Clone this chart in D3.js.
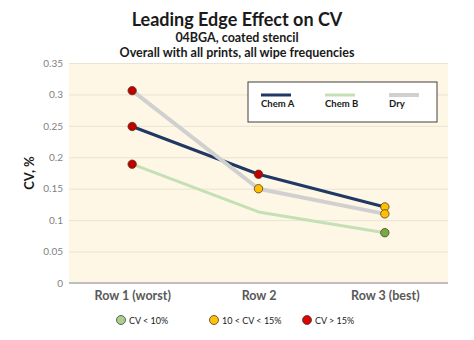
<!DOCTYPE html>
<html lang="en">
<head>
<meta charset="utf-8">
<title>Leading Edge Effect on CV</title>
<script src="https://cdn.jsdelivr.net/npm/d3@7"></script>
<style>
  body { margin: 0; background: #fff; }
  svg { display: block; font-family: Lato, "Open Sans", sans-serif; }
</style>
</head>
<body>
<div id="chart"></div>
<script>
  // rows along the stencil, worst to best
  const rows = ["Row 1 (worst)", "Row 2", "Row 3 (best)"];
  const chemA = [0.249, 0.173, 0.121];
  const chemB = [0.189, 0.113, 0.080];
  const dry = [0.306, 0.150, 0.110];
  // marker class per point: "g" < 10%, "y" 10-15%, "r" > 15%, null = no marker
  const chemAMarks = ["r", "r", "y"];
  const chemBMarks = ["r", null, "g"];
  const dryMarks = ["r", "y", "y"];
  const yTicks = [0, 0.05, 0.1, 0.15, 0.2, 0.25, 0.3, 0.35];
  const bandLabels = ["CV < 10%", "10 < CV < 15%", "CV > 15%"];

  const width = 474, height = 340;
  const plot = { left: 69, right: 448, top: 63, bottom: 283 };

  const markFill = { g: "#70ad47", y: "#ffc000", r: "#c00000" };

  const svg = d3.select("#chart").append("svg")
    .attr("width", width)
    .attr("height", height);

  const x = d3.scalePoint().domain(rows).range([plot.left, plot.right]).padding(0.5);
  const y = d3.scaleLinear().domain([0, 0.35]).range([plot.bottom, plot.top]);

  // titles
  svg.append("text").attr("x", 237).attr("y", 26).attr("text-anchor", "middle")
    .style("font", "bold 18px Lato, sans-serif").style("fill", "#1a1a1a")
    .text("Leading Edge Effect on CV");
  svg.append("text").attr("x", 237).attr("y", 42).attr("text-anchor", "middle")
    .style("font", "bold 12.5px Lato, sans-serif").style("fill", "#1a1a1a")
    .text("04BGA, coated stencil");
  svg.append("text").attr("x", 237).attr("y", 56.5).attr("text-anchor", "middle")
    .style("font", "bold 12.5px Lato, sans-serif").style("fill", "#1a1a1a")
    .text("Overall with all prints, all wipe frequencies");

  // plot background
  svg.append("rect")
    .attr("x", plot.left).attr("y", plot.top)
    .attr("width", plot.right - plot.left).attr("height", plot.bottom - plot.top)
    .style("fill", "#fef7e6");

  // y axis with gridlines
  const yAxis = d3.axisLeft(y).tickValues(yTicks).tickSize(-(plot.right - plot.left))
    .tickPadding(6).tickFormat(d => d === 0 ? "0" : d3.format("")(+d.toFixed(2)));
  const gy = svg.append("g").attr("transform", "translate(" + plot.left + ",0)").call(yAxis);
  gy.select(".domain").remove();
  gy.selectAll(".tick line").attr("stroke", "#ebe3d2").attr("stroke-width", 1);
  gy.selectAll(".tick text").style("font", "10px Lato, sans-serif").style("fill", "#7f7f7f");

  // x axis
  const xAxis = d3.axisBottom(x).tickSize(0).tickPadding(8);
  const gx = svg.append("g").attr("transform", "translate(0," + plot.bottom + ")").call(xAxis);
  gx.select(".domain").remove();
  gx.selectAll(".tick text").style("font", "bold 12.5px Lato, sans-serif").style("fill", "#595959");
  svg.append("line")
    .attr("x1", plot.left).attr("x2", plot.right)
    .attr("y1", plot.bottom).attr("y2", plot.bottom)
    .attr("stroke", "#bfbfbf").attr("stroke-width", 2);

  svg.append("text")
    .attr("transform", "translate(34," + ((plot.top + plot.bottom) / 2) + ") rotate(-90)")
    .attr("text-anchor", "middle")
    .style("font", "bold 13px Lato, sans-serif").style("fill", "#1a1a1a")
    .text("CV, %");

  const series = [
    { name: "Chem A", values: chemA, marks: chemAMarks, color: "#203864", w: 3 },
    { name: "Chem B", values: chemB, marks: chemBMarks, color: "#c5e0b4", w: 3 },
    { name: "Dry", values: dry, marks: dryMarks, color: "#d0d0d0", w: 4 }
  ];

  const line = d3.line().x((d, i) => x(rows[i])).y(d => y(d));

  svg.selectAll(".series")
    .data(series)
    .enter()
    .append("path")
    .attr("class", "series")
    .attr("d", d => line(d.values))
    .attr("fill", "none")
    .attr("stroke", d => d.color)
    .attr("stroke-width", d => d.w)
    .attr("stroke-linejoin", "round");

  const pts = [];
  series.forEach(s => s.values.forEach((v, i) => {
    if (s.marks[i]) pts.push({ row: rows[i], v: v, m: s.marks[i] });
  }));
  svg.selectAll(".pt")
    .data(pts)
    .enter()
    .append("circle")
    .attr("class", "pt")
    .attr("cx", d => x(d.row))
    .attr("cy", d => y(d.v))
    .attr("r", 4.2)
    .style("fill", d => markFill[d.m])
    .attr("stroke", "#5a3a1a")
    .attr("stroke-width", 0.8);

  // series legend
  const lg = svg.append("g").attr("transform", "translate(248,82)");
  lg.append("rect").attr("width", 189).attr("height", 40)
    .style("fill", "#fff").attr("stroke", "#404040").attr("stroke-width", 1);
  series.forEach((s, i) => {
    const gx0 = 13 + i * 64;
    lg.append("line").attr("x1", gx0).attr("x2", gx0 + 30).attr("y1", 13).attr("y2", 13)
      .attr("stroke", s.color).attr("stroke-width", s.w);
    lg.append("text").attr("x", gx0).attr("y", 25)
      .style("font", "bold 9.5px Lato, sans-serif").style("fill", "#1a1a1a")
      .text(s.name);
  });

  // marker colour legend
  const bandFill = ["#a9d18e", "#ffc000", "#e00000"];
  const bandX = [121, 214, 307];
  bandLabels.forEach((t, i) => {
    svg.append("circle").attr("cx", bandX[i]).attr("cy", 320).attr("r", 4.5)
      .style("fill", bandFill[i]).attr("stroke", "#404040").attr("stroke-width", 0.8);
    svg.append("text").attr("x", bandX[i] + 8).attr("y", 323.5)
      .style("font", "9px Lato, sans-serif").style("fill", "#1a1a1a")
      .text(t);
  });
</script>
</body>
</html>
